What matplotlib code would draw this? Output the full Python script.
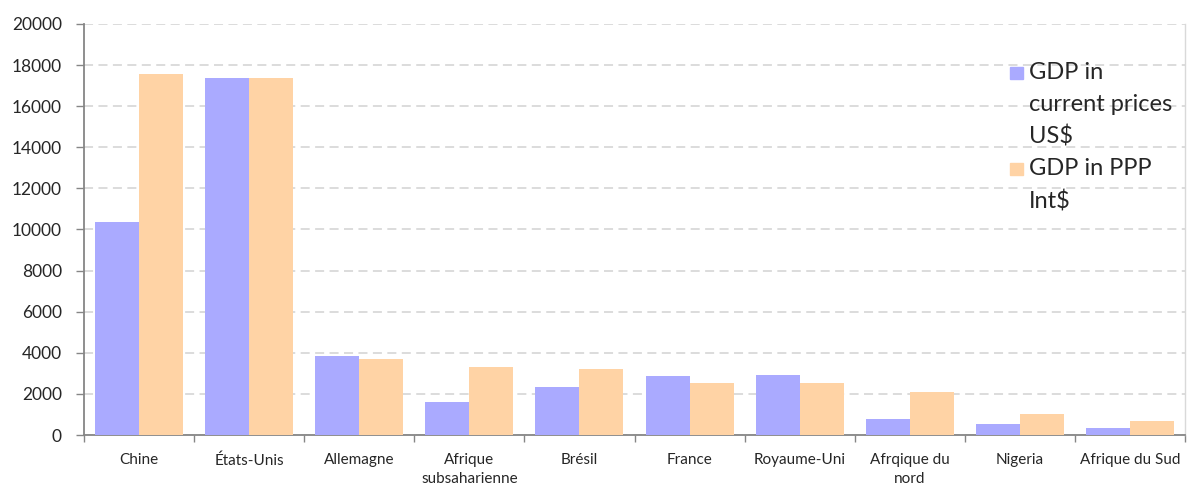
import numpy as np
import matplotlib
matplotlib.use("Agg")
from matplotlib import pyplot as plt
from matplotlib.patches import Rectangle

FILENAME = "out.png"

countries = ["Chine", "États-Unis", "Allemagne", "Afrique\nsubsaharienne", "Brésil",
             "France", "Royaume-Uni", "Afrqique du\nnord", "Nigeria", "Afrique du Sud"]
gdp_current = [10360, 17390, 3860, 1610, 2350, 2850, 2900, 790, 520, 330]
gdp_ppp = [17560, 17390, 3690, 3310, 3230, 2550, 2550, 2110, 1000, 680]
series_labels = ["GDP in\ncurrent prices\nUS$", "GDP in PPP\nInt$"]
yticks = list(range(0, 20001, 2000))

BLUE = "#AAAAFF"
PEACH = "#FFD3A5"
AXIS = "#868686"

W, H = 1189, 488

default_style = {
    "font.family": ["Lato", "DejaVu Sans"],
    "text.color": "#262626",
    "xtick.color": AXIS,
    "ytick.color": AXIS,
    "xtick.labelcolor": "#262626",
    "ytick.labelcolor": "#262626",
}


def main():
    matplotlib.rcParams.update(default_style)
    fig = plt.figure(figsize=(W / 100, H / 100), dpi=100)
    ax = fig.add_axes([84 / W, 1 - 435 / H, (1185 - 84) / W, (435 - 24) / H])

    x = np.arange(len(countries))
    width = 0.4
    ax.bar(x - width / 2, gdp_current, width, color=BLUE, zorder=3)
    ax.bar(x + width / 2, gdp_ppp, width, color=PEACH, zorder=3)

    ax.set_xlim(-0.5, len(countries) - 0.5)
    ax.set_ylim(0, 20000)
    ax.set_yticks(yticks)
    ax.set_yticklabels([str(v) for v in yticks], fontsize=12.5)
    ax.tick_params(axis="y", direction="out", length=6, width=1, pad=10)

    ax.set_xticks(x)
    ax.set_xticklabels(countries, fontsize=11, linespacing=1.45)
    ax.set_xticks(np.arange(-0.5, len(countries)), minor=True)
    ax.tick_params(axis="x", which="major", length=0, pad=13)
    ax.tick_params(axis="x", which="minor", direction="out", length=5, width=1)

    ax.yaxis.grid(True, color="#d9d9d9", linestyle=(0, (5, 3)), linewidth=1.3, zorder=0)
    ax.set_axisbelow(True)

    ax.spines["top"].set_visible(False)
    ax.spines["left"].set_color(AXIS)
    ax.spines["left"].set_linewidth(1.3)
    ax.spines["bottom"].set_color(AXIS)
    ax.spines["bottom"].set_linewidth(1.3)
    ax.spines["right"].set_color("#d9d9d9")
    ax.spines["right"].set_linewidth(1)

    # legend drawn by hand so the swatch sits on the first line of the label
    for colour, label, sw_top, txt_top in zip([BLUE, PEACH], series_labels, [67, 163], [62, 158]):
        fig.patches.append(Rectangle((1010 / W, 1 - (sw_top + 12) / H), 13 / W, 12 / H,
                                     transform=fig.transFigure, color=colour))
        fig.text(1029 / W, 1 - txt_top / H, label, fontsize=17, va="top", ha="left",
                 linespacing=1.62)

    fig.savefig(FILENAME, dpi=100)
    return fig


if __name__ == '__main__':
    main()
